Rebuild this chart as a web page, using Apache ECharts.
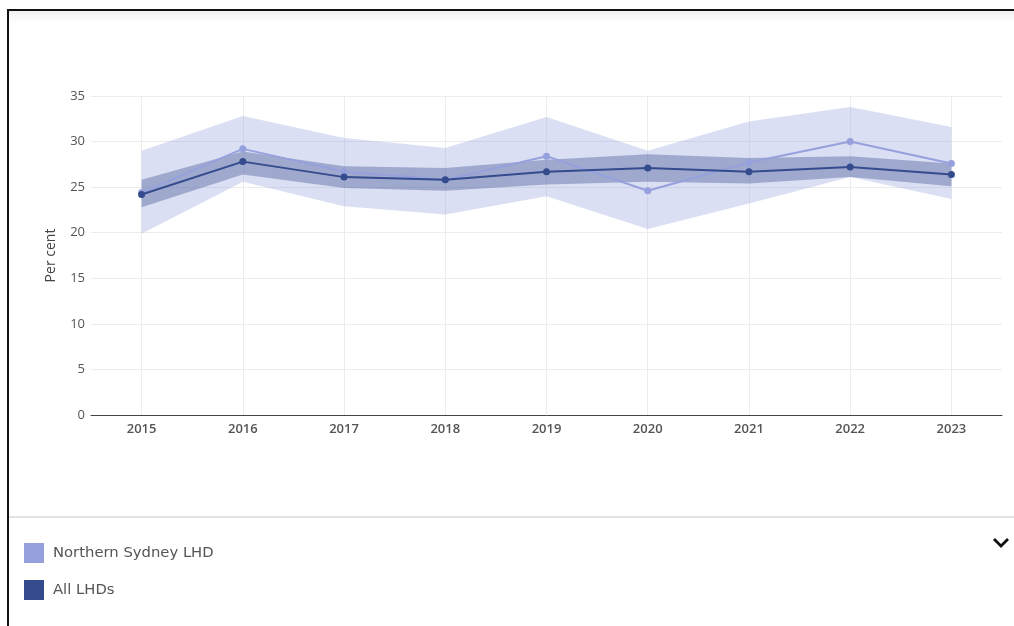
<!DOCTYPE html>
<html>
<head>
<meta charset="utf-8">
<script src="https://cdn.jsdelivr.net/npm/echarts@6/dist/echarts.min.js"></script>
<style>
  html, body { margin: 0; padding: 0; background: #fff; }
  #chart { width: 1014px; height: 626px; }
</style>
</head>
<body>
<div id="chart"></div>
<script>
// Survey years
const years = ['2015', '2016', '2017', '2018', '2019', '2020', '2021', '2022', '2023'];

// Northern Sydney LHD: estimate and 95% confidence limits (per cent)
const nsValue = [24.4, 29.2, 26.7, 25.8, 28.4, 24.6, 27.7, 30.0, 27.6];
const nsLower = [19.9, 25.6, 22.9, 22.0, 24.0, 20.4, 23.2, 26.1, 23.7];
const nsUpper = [29.0, 32.8, 30.4, 29.3, 32.7, 29.0, 32.2, 33.8, 31.6];

// All LHDs: estimate and 95% confidence limits (per cent)
const allValue = [24.2, 27.8, 26.1, 25.8, 26.7, 27.1, 26.7, 27.2, 26.4];
const allLower = [22.8, 26.4, 24.9, 24.6, 25.3, 25.6, 25.4, 26.1, 25.1];
const allUpper = [25.8, 28.9, 27.3, 27.1, 28.0, 28.6, 28.2, 28.4, 27.6];

// Y axis ticks
const yMin = 0, yMax = 35, yStep = 5;

const nsColor = '#96a0dc';
const allColor = '#344b8e';
const axisFont = '"Open Sans", "Noto Sans", sans-serif';

const diff = (hi, lo) => hi.map((v, i) => +(v - lo[i]).toFixed(2));

const chart = echarts.init(document.getElementById('chart'), null, { renderer: 'canvas' });

const bandBase = {
  type: 'line',
  symbol: 'none',
  silent: true,
  lineStyle: { opacity: 0 },
  z: 1
};

chart.setOption({
  animation: false,
  backgroundColor: '#fff',
  textStyle: { fontFamily: axisFont },
  grid: { left: 91, right: 12, top: 96, bottom: 211, containLabel: false },
  xAxis: {
    type: 'category',
    data: years,
    boundaryGap: true,
    axisLine: { lineStyle: { color: '#444', width: 1 } },
    axisTick: { show: false },
    axisLabel: { color: '#555', fontSize: 13, fontWeight: 600, fontFamily: axisFont, margin: 8 },
    splitLine: { show: true, alignWithLabel: true, lineStyle: { color: '#ececec', width: 1 } }
  },
  yAxis: {
    type: 'value',
    min: yMin, max: yMax, interval: yStep,
    name: 'Per cent',
    nameLocation: 'middle',
    nameGap: 33,
    nameRotate: 90,
    nameTextStyle: { color: '#444', fontSize: 14, fontFamily: axisFont },
    axisLine: { show: false },
    axisTick: { show: false },
    axisLabel: { color: '#555', fontSize: 13, fontFamily: axisFont, margin: 6 },
    splitLine: { lineStyle: { color: '#ececec', width: 1 } }
  },
  legend: {
    orient: 'vertical',
    left: 24,
    top: 543,
    padding: 0,
    itemWidth: 20,
    itemHeight: 20,
    itemGap: 17,
    icon: 'rect',
    selectedMode: false,
    textStyle: { color: '#555', fontSize: 14.8, fontFamily: '"DejaVu Sans", sans-serif', padding: [0, 0, 0, 4] },
    data: [
      { name: 'Northern Sydney LHD', itemStyle: { color: nsColor } },
      { name: 'All LHDs', itemStyle: { color: allColor } }
    ]
  },
  series: [
    // Northern Sydney confidence band
    Object.assign({}, bandBase, { name: 'ns-lower', stack: 'ns', data: nsLower }),
    Object.assign({}, bandBase, {
      name: 'ns-band', stack: 'ns', data: diff(nsUpper, nsLower),
      areaStyle: { color: nsColor, opacity: 0.34 }
    }),
    // All LHDs confidence band
    Object.assign({}, bandBase, { name: 'all-lower', stack: 'all', data: allLower, z: 2 }),
    Object.assign({}, bandBase, {
      name: 'all-band', stack: 'all', data: diff(allUpper, allLower), z: 2,
      areaStyle: { color: allColor, opacity: 0.36 }
    }),
    {
      name: 'Northern Sydney LHD',
      type: 'line',
      data: nsValue,
      symbol: 'circle',
      symbolSize: 7,
      itemStyle: { color: nsColor },
      lineStyle: { color: nsColor, width: 2 },
      z: 3
    },
    {
      name: 'All LHDs',
      type: 'line',
      data: allValue,
      symbol: 'circle',
      symbolSize: 7,
      itemStyle: { color: allColor },
      lineStyle: { color: allColor, width: 2 },
      z: 4
    }
  ],
  graphic: [
    // Panel frame: top shadow, top and left borders
    {
      type: 'rect', left: 9, top: 11, silent: true,
      shape: { width: 1005, height: 12 },
      style: {
        fill: new echarts.graphic.LinearGradient(0, 0, 0, 1, [
          { offset: 0, color: 'rgba(0,0,0,0.06)' },
          { offset: 1, color: 'rgba(0,0,0,0)' }
        ])
      }
    },
    { type: 'rect', left: 7, top: 9, silent: true, shape: { width: 1007, height: 2 }, style: { fill: '#111' } },
    { type: 'rect', left: 7, top: 9, silent: true, shape: { width: 2, height: 617 }, style: { fill: '#111' } },
    // Separator above the legend
    { type: 'rect', left: 9, top: 516, silent: true, shape: { width: 1005, height: 2 }, style: { fill: '#e4e4e4' } },
    // Expand chevron
    {
      type: 'polyline', silent: true,
      shape: { points: [[995, 540], [1001, 546], [1007, 540]] },
      style: { stroke: '#111', lineWidth: 2.8, fill: null, lineCap: 'square' }
    }
  ]
});
</script>
</body>
</html>
